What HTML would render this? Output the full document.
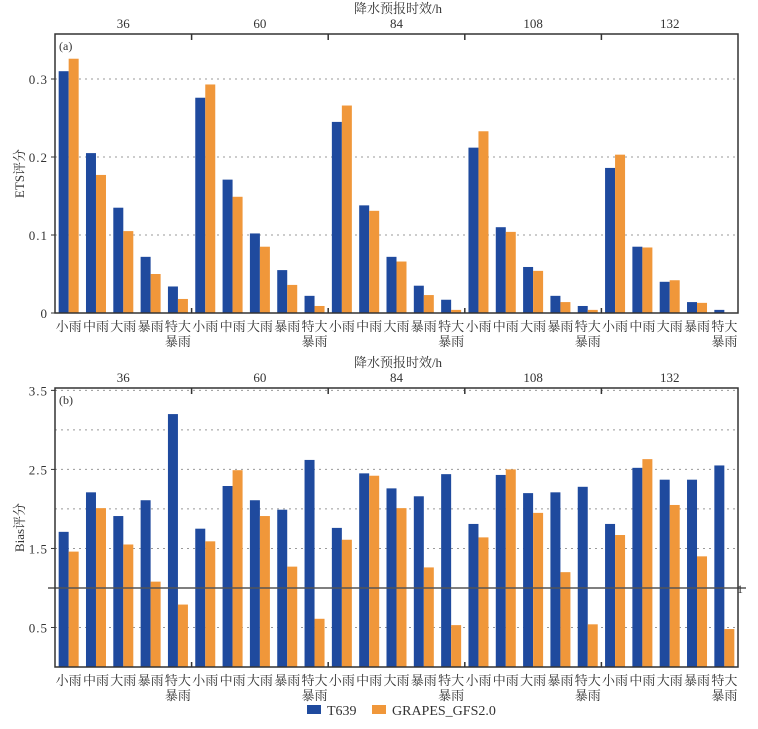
<!DOCTYPE html>
<html><head><meta charset="utf-8"><style>
body{margin:0;background:#fff}
svg text{font-family:"Liberation Serif","Noto Serif CJK SC",serif;fill:#333}
</style></head><body>
<svg id="chart" width="758" height="724" xmlns="http://www.w3.org/2000/svg"></svg>
<script>
const categories=["小雨","中雨","大雨","暴雨","特大暴雨"];
const leadTimes=["36","60","84","108","132"];
const etsT639=[[.31,.205,.135,.072,.034],[.276,.171,.102,.055,.022],[.245,.138,.072,.035,.017],[.212,.11,.059,.022,.009],[.186,.085,.04,.014,.004]];
const etsGrapes=[[.326,.177,.105,.05,.018],[.293,.149,.085,.036,.009],[.266,.131,.066,.023,.004],[.233,.104,.054,.014,.004],[.203,.084,.042,.013,0]];
const biasT639=[[1.71,2.21,1.91,2.11,3.2],[1.75,2.29,2.11,1.99,2.62],[1.76,2.45,2.26,2.16,2.44],[1.81,2.43,2.2,2.21,2.28],[1.81,2.52,2.37,2.37,2.55]];
const biasGrapes=[[1.46,2.01,1.55,1.08,0.79],[1.59,2.49,1.91,1.27,0.61],[1.61,2.42,2.01,1.26,0.53],[1.64,2.5,1.95,1.2,0.54],[1.67,2.63,2.05,1.4,0.48]];
const etsTicks=[0,0.1,0.2,0.3];
const etsTickLabels=["0","0.1","0.2","0.3"];
const biasGrid=[0.5,1.5,2,2.5,3,3.5];
const biasTickLabels=[[0.5,"0.5"],[1.5,"1.5"],[2.5,"2.5"],[3.5,"3.5"]];
const svg=document.getElementById('chart');
const NS="http://www.w3.org/2000/svg";
function mk(tag,attrs,parent){const e=document.createElementNS(NS,tag);for(const k in attrs)e.setAttribute(k,attrs[k]);(parent||svg).appendChild(e);return e;}
const L=55,R=738,W=R-L,groupW=W/5,catW=groupW/5;
function catX(g,c){return L+g*groupW+(c+0.5)*catW;}
function panel(opts){
  const {top,bottom,ymax,t639,grapes,name,label,ylabel}=opts;
  const y=v=>bottom-(v/ymax)*(bottom-top);
  const g=mk('g',{});
  
  
  opts.grid.forEach(v=>{
    const l=mk('line',{x1:L,x2:R,y1:y(v),y2:y(v),stroke:'#999','stroke-dasharray':'2,4','stroke-width':1},g);
    
    
  });
  for(let gi=0;gi<5;gi++)for(let c=0;c<5;c++){
    const cx=catX(gi,c);
    const b1=mk('rect',{x:cx-10,y:y(t639[gi][c]),width:10,height:bottom-y(t639[gi][c]),fill:'#1f4a9e'},g);
    
    
    const b2=mk('rect',{x:cx,y:y(grapes[gi][c]),width:10,height:bottom-y(grapes[gi][c]),fill:'#f0973a'},g);
    
    
    const lines=categories[c].length>2?[categories[c].slice(0,2),categories[c].slice(2)]:[categories[c]];
    lines.forEach((s,i)=>{
      const t=mk('text',{x:cx,y:bottom+18+i*15,'font-size':13,'text-anchor':'middle',fill:'#444'},g);
      t.textContent=s;
      
      
    });
  }
  if(opts.refLine){
    const l=mk('line',{x1:48,x2:746,y1:y(1),y2:y(1),stroke:'#555','stroke-width':1.5},g);
    
    
    const t=mk('text',{x:737,y:y(1)+5,'font-size':12},g);t.textContent='1';
    
    
  }
  const f=mk('rect',{x:L,y:top,width:W,height:bottom-top,fill:'none',stroke:'#333','stroke-width':1.5},g);
  
  
  for(let i=1;i<5;i++){
    const x=L+i*groupW;
    mk('line',{x1:x,x2:x,y1:top,y2:top+6,stroke:'#333','stroke-width':1.5},g);
    mk('line',{x1:x,x2:x,y1:bottom,y2:bottom-5,stroke:'#333','stroke-width':1.5},g);
  }
  leadTimes.forEach((s,i)=>{
    const t=mk('text',{x:L+(i+0.5)*groupW,y:top-6,'font-size':13,'text-anchor':'middle'},g);t.textContent=s;
    
    
  });
  const tt=mk('text',{x:398,y:top-21,'font-size':13,'text-anchor':'middle'},g);tt.textContent='降水预报时效/h';
  
  
  opts.ticks.forEach(([v,s])=>{
    mk('line',{x1:L-4,x2:L,y1:y(v),y2:y(v),stroke:'#333'},g);
    const t=mk('text',{x:L-7,y:y(v)+5,'font-size':13,'text-anchor':'end','letter-spacing':'1'},g);t.textContent=s;
    
    
  });
  const pl=mk('text',{x:L+4,y:top+16,'font-size':12},g);pl.textContent=label;
  
  
  const yl=mk('text',{x:0,y:0,'font-size':13,'text-anchor':'middle',transform:`translate(24,${(top+bottom)/2}) rotate(-90)`},g);yl.textContent=ylabel;
  
  
}
panel({top:34,bottom:313,ymax:0.3577,t639:etsT639,grapes:etsGrapes,name:'ets-panel',label:'(a)',ylabel:'ETS评分',grid:[0.1,0.2,0.3],ticks:etsTicks.map((v,i)=>[v,etsTickLabels[i]])});
panel({top:388,bottom:667,ymax:3.53,t639:biasT639,grapes:biasGrapes,name:'bias-panel',label:'(b)',ylabel:'Bias评分',grid:biasGrid,ticks:biasTickLabels,refLine:true});
const lg=mk('g',{});


mk('rect',{x:307,y:705,width:14,height:9,fill:'#1f4a9e'},lg);
const t1=mk('text',{x:327,y:715,'font-size':14},lg);t1.textContent='T639';


mk('rect',{x:372,y:705,width:14,height:9,fill:'#f0973a'},lg);
const t2=mk('text',{x:392,y:715,'font-size':14},lg);t2.textContent='GRAPES_GFS2.0';


</script>
</body></html>
